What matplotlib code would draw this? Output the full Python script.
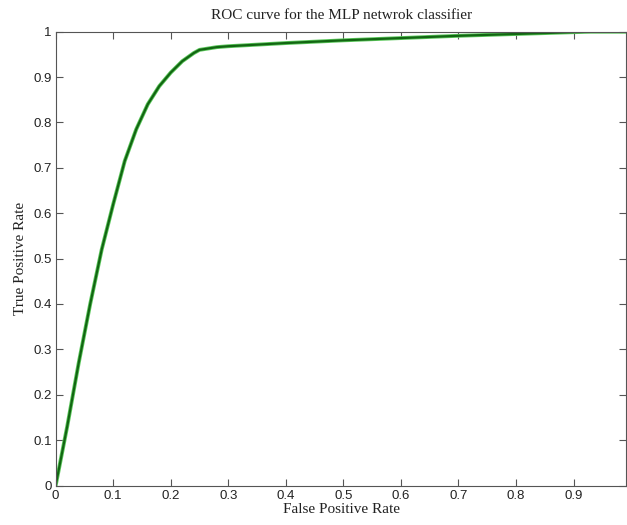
import numpy as np
import matplotlib
matplotlib.use("Agg")
import matplotlib.pyplot as plt

# ROC points
fpr = [0.0, 0.02, 0.04, 0.06, 0.08, 0.10, 0.12, 0.14, 0.16, 0.18,
       0.20, 0.22, 0.24, 0.25, 0.28, 0.30, 0.40, 0.50, 0.60, 0.70,
       0.80, 0.90, 0.93, 0.992]
tpr = [0.0, 0.13, 0.27, 0.40, 0.52, 0.62, 0.715, 0.785, 0.84, 0.88,
       0.91, 0.935, 0.953, 0.96, 0.966, 0.968, 0.975, 0.981, 0.986, 0.991,
       0.995, 0.999, 1.0, 1.0]

xticks = [0, 0.1, 0.2, 0.3, 0.4, 0.5, 0.6, 0.7, 0.8, 0.9]
yticks = [0, 0.1, 0.2, 0.3, 0.4, 0.5, 0.6, 0.7, 0.8, 0.9, 1]

fig = plt.figure(figsize=(6.27, 5.25), dpi=100)
ax = fig.add_axes([0.0888, 0.0752, 0.9104, 0.8644])

ax.plot(fpr, tpr, color="#5cc85c", linewidth=2.8, solid_joinstyle="round")
ax.plot(fpr, tpr, color="#126612", linewidth=1.6, solid_joinstyle="round")

ax.set_xlim(0, 0.992)
ax.set_ylim(0, 1)
ax.set_xticks(xticks)
ax.set_yticks(yticks)
ax.set_xticklabels([f"{v:g}" for v in xticks])
ax.set_yticklabels([f"{v:g}" for v in yticks])

ax.tick_params(direction="in", length=5, width=0.8, color="#555555",
               top=True, right=True, labelsize=9.5, pad=3)
for lab in ax.get_xticklabels() + ax.get_yticklabels():
    lab.set_fontfamily("Liberation Sans")
    lab.set_color("#222222")
for sp in ax.spines.values():
    sp.set_color("#555555")
    sp.set_linewidth(0.8)

ax.set_title("ROC curve for the MLP netwrok classifier", fontfamily="Liberation Serif",
             fontsize=11, pad=9, color="#222222")
ax.set_xlabel("False Positive Rate", fontfamily="Liberation Serif", fontsize=11,
              labelpad=1, color="#222222")
ax.set_ylabel("True Positive Rate", fontfamily="Liberation Serif", fontsize=11,
              labelpad=4, color="#222222")

fig.savefig("out.png", dpi=100)
